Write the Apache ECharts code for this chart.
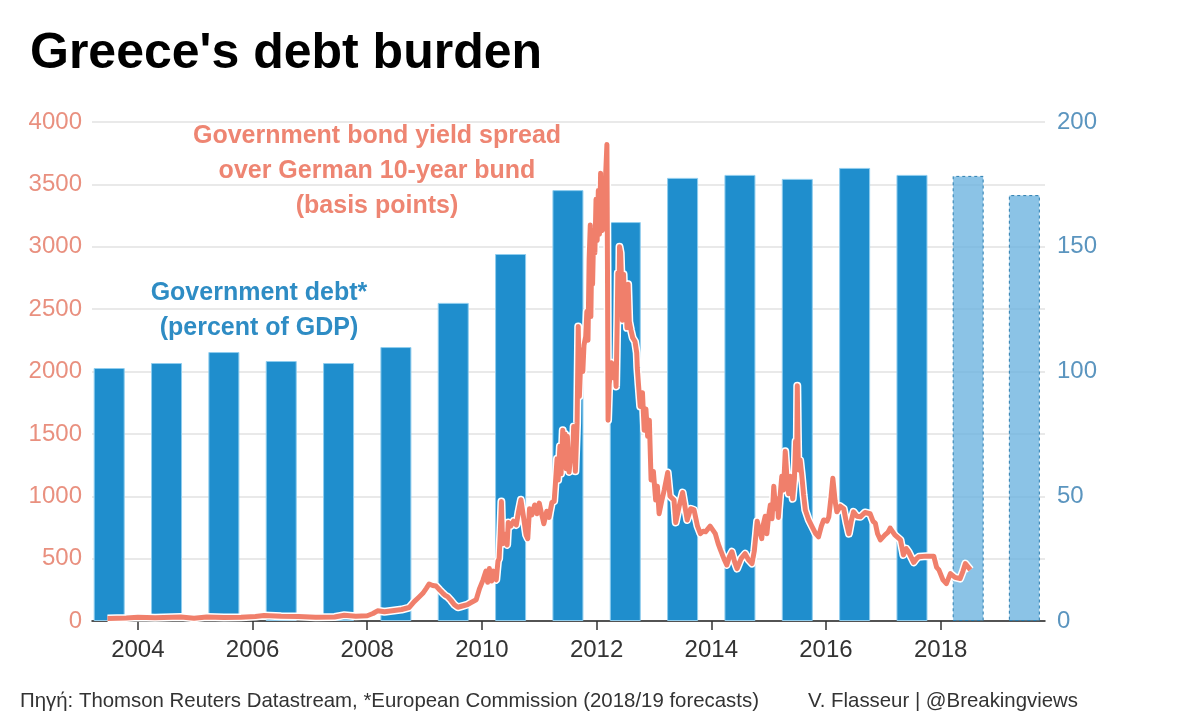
<!DOCTYPE html>
<html>
<head>
<meta charset="utf-8">
<title>Greece's debt burden</title>
<script src="https://cdn.jsdelivr.net/npm/echarts@6/dist/echarts.min.js"></script>
<style>
html, body { margin: 0; padding: 0; background: #fff; }
#chart { width: 1200px; height: 720px; }
</style>
</head>
<body>
<div id="chart"></div>
<script>
// bars sit at mid-year
var debtYears = [2003.5, 2004.5, 2005.5, 2006.5, 2007.5, 2008.5, 2009.5, 2010.5, 2011.5, 2012.5, 2013.5, 2014.5, 2015.5, 2016.5, 2017.5];
var debtValues = [101.4, 103.4, 107.8, 104.2, 103.4, 109.8, 127.5, 147.1, 172.7, 159.9, 177.6, 178.8, 177.2, 181.6, 178.8];
var forecastYears = [2018.48, 2019.46];
var forecastValues = [178.4, 170.7];

// spread, decimal years / basis points
var spreadYears = [
	2003.47, 2003.8, 2004, 2004.3, 2004.75, 2004.98, 2005.2, 2005.5, 2005.8, 2006.05, 2006.2, 2006.5, 2006.8, 2007.1, 2007.43, 2007.6, 2007.8, 2008, 2008.1, 2008.18, 2008.3, 2008.47, 2008.6, 2008.73, 2008.82, 2008.9, 2008.97,
	2009.03, 2009.08, 2009.14, 2009.2, 2009.26, 2009.32, 2009.36, 2009.4, 2009.46, 2009.52, 2009.58, 2009.66, 2009.75, 2009.82, 2009.9, 2009.96, 2010.02, 2010.07, 2010.1, 2010.13, 2010.17, 2010.2, 2010.25, 2010.28, 2010.3, 2010.32, 2010.34, 2010.36, 2010.38, 2010.41, 2010.44, 2010.46, 2010.5, 2010.55,
	2010.6, 2010.64, 2010.68, 2010.72, 2010.77, 2010.8, 2010.83, 2010.87, 2010.92, 2010.96, 2011, 2011.04, 2011.08, 2011.13, 2011.17, 2011.22, 2011.26, 2011.28, 2011.31, 2011.33, 2011.36, 2011.38, 2011.41, 2011.43, 2011.45, 2011.47, 2011.49, 2011.52, 2011.55, 2011.58, 2011.6, 2011.63, 2011.66, 2011.68, 2011.7, 2011.73, 2011.76, 2011.78,
	2011.81, 2011.83, 2011.85, 2011.87, 2011.89, 2011.9, 2011.92, 2011.93, 2011.95, 2011.97, 2011.99, 2012.01, 2012.03, 2012.05, 2012.07, 2012.08, 2012.1, 2012.12, 2012.14, 2012.16, 2012.18, 2012.19, 2012.2, 2012.22, 2012.26, 2012.29, 2012.32, 2012.34, 2012.36, 2012.37, 2012.39, 2012.4, 2012.42, 2012.44, 2012.45,
	2012.47, 2012.49, 2012.51, 2012.53, 2012.55, 2012.57, 2012.6, 2012.63, 2012.67, 2012.7, 2012.71, 2012.73, 2012.76, 2012.8, 2012.83, 2012.86, 2012.89, 2012.92, 2012.95, 2012.99, 2013.03, 2013.06, 2013.09, 2013.13, 2013.18, 2013.24, 2013.28, 2013.35, 2013.38, 2013.44, 2013.5, 2013.58, 2013.64, 2013.7, 2013.76,
	2013.81, 2013.86, 2013.9, 2013.98, 2014.07, 2014.12, 2014.16, 2014.22, 2014.27, 2014.32, 2014.36, 2014.41, 2014.45, 2014.52, 2014.59, 2014.65, 2014.71, 2014.75, 2014.78, 2014.8, 2014.84, 2014.88, 2014.91, 2014.94, 2014.97, 2015, 2015.03, 2015.06, 2015.09, 2015.12, 2015.15, 2015.17, 2015.2, 2015.23,
	2015.26, 2015.29, 2015.32, 2015.35, 2015.38, 2015.42, 2015.45, 2015.47, 2015.49, 2015.5, 2015.51, 2015.52, 2015.55, 2015.58, 2015.61, 2015.64, 2015.7, 2015.76, 2015.82, 2015.87, 2015.92, 2015.96, 2016.02, 2016.05, 2016.09, 2016.12, 2016.16, 2016.19, 2016.25, 2016.31, 2016.36, 2016.4, 2016.44,
	2016.48, 2016.54, 2016.6, 2016.68, 2016.77, 2016.82, 2016.86, 2016.9, 2016.95, 2017.03, 2017.08, 2017.12, 2017.2, 2017.3, 2017.35, 2017.4, 2017.44, 2017.53, 2017.58, 2017.62, 2017.75, 2017.88, 2017.93, 2017.97, 2018.04, 2018.1, 2018.17,
	2018.25, 2018.34, 2018.39, 2018.43, 2018.52
];
var spreadValues = [
	20, 24, 30, 27, 32, 22, 32, 28, 30, 36, 44, 38, 36, 30, 32, 46, 38, 42, 60, 82, 74, 84, 92, 108, 155, 190, 222,
	262, 297, 285, 280, 250, 222, 205, 195, 165, 130, 110, 120, 132, 150, 170, 262, 330, 400, 310, 420, 320, 400, 330, 480, 500, 700, 958, 620, 700, 640, 610, 790, 760, 800,
	770, 880, 972, 850, 690, 660, 900, 850, 930, 860, 945, 860, 780, 880, 830, 950, 960, 1090, 1300, 1130, 1400, 1180, 1530, 1280, 1500, 1220, 1480, 1195, 1330, 1290, 1560, 1200, 1590, 2360, 1800, 2170, 2000, 2210,
	2280, 2480, 2250, 2900, 3175, 2440, 3100, 2700, 3130, 2950, 3380, 3050, 3450, 3100, 3590, 3180, 3130, 3500, 3200, 3600, 3820, 2800, 1610, 1900, 2070, 1950, 2060, 1880, 2400, 2790, 2500, 3000, 2950, 2650, 2410,
	2780, 2500, 2680, 2350, 2700, 2400, 2330, 2270, 2240, 2150, 2030, 1900, 1720, 1830, 1530, 1700, 1480, 1610, 1130, 1200, 970, 1080, 860, 950, 1050, 1190, 1000, 970, 790, 920, 1030, 810, 900, 890, 760,
	700, 720, 715, 760, 700, 620, 570, 500, 450, 520, 555, 470, 420, 500, 540, 490, 460, 560, 700, 800, 730, 660, 780, 840, 700, 840, 930, 820, 1080, 900, 980, 830, 1000, 1160,
	1050, 1360, 1150, 1020, 1160, 980, 1140, 1440, 1300, 1885, 1500, 1210, 1290, 1160, 1010, 890, 810, 755, 700, 675, 760, 810, 800, 835, 1000, 1145, 960, 875, 920, 900, 780, 700, 800,
	875, 840, 835, 870, 860, 800, 785, 700, 650, 690, 710, 745, 690, 650, 530, 580, 555, 470, 500, 515, 520, 520, 430, 410, 330, 300, 380,
	350, 340, 400, 460, 410
];

var yearTicks = [2004, 2006, 2008, 2010, 2012, 2014, 2016, 2018];

var spreadColor = "#F07F6B";
var debtColor = "#1F8ECD";
var fontName = "'Liberation Sans', Arial, sans-serif";

function zip(xs, ys) {
	return xs.map(function(x, i) { return [x, ys[i]]; });
}

// plain number, the picture has no thousands separator
function plainLabel(v) {
	return String(v);
}

var voChart = echarts.init(document.getElementById("chart"), null, { renderer: "canvas" });

var voSpread = zip(spreadYears, spreadValues);

var voOption = {
	animation: false,
	backgroundColor: "#fff",
	textStyle: { fontFamily: fontName },
	title: {
		text: "Greece's debt burden",
		left: 25,
		top: 24,
		textStyle: { fontFamily: fontName, fontSize: 50, fontWeight: "bold", color: "#000" }
	},
	grid: { left: 92, right: 155, top: 122, bottom: 99 },
	xAxis: {
		type: "value",
		min: 2003.2,
		max: 2019.82,
		splitLine: { show: false },
		axisLine: { show: true, onZero: false, lineStyle: { color: "#222", width: 1.5 } },
		axisTick: { show: true, length: 9, customValues: yearTicks, lineStyle: { color: "#333", width: 1.5 } },
		axisLabel: {
			customValues: yearTicks,
			margin: 17,
			fontFamily: fontName,
			fontSize: 24,
			color: "#333",
			formatter: plainLabel
		}
	},
	yAxis: [
		{
			type: "value",
			min: 0,
			max: 4000,
			interval: 500,
			axisLine: { show: false },
			axisTick: { show: false },
			axisLabel: { fontFamily: fontName, fontSize: 24, color: "#E9907F", margin: 10, formatter: plainLabel },
			splitLine: { show: true, lineStyle: { color: "#E2E2E2", width: 1.5 } }
		},
		{
			type: "value",
			min: 0,
			max: 200,
			interval: 50,
			position: "right",
			axisLine: { show: false },
			axisTick: { show: false },
			axisLabel: { fontFamily: fontName, fontSize: 24, color: "#5B95BF", margin: 12, formatter: plainLabel },
			splitLine: { show: false }
		}
	],
	series: [
		{
			name: "Government debt",
			type: "bar",
			yAxisIndex: 1,
			barWidth: 31,
			barGap: "-100%",
			itemStyle: { color: debtColor, borderColor: "#8FCDEE", borderWidth: 1 },
			data: zip(debtYears, debtValues)
		},
		{
			name: "Forecast",
			type: "bar",
			yAxisIndex: 1,
			barWidth: 31,
			barGap: "-100%",
			itemStyle: { color: "rgba(100,175,222,0.75)", borderColor: "#2A7DAF", borderWidth: 1, borderType: [3, 3] },
			data: zip(forecastYears, forecastValues)
		},
		{
			name: "halo",
			type: "line",
			yAxisIndex: 0,
			showSymbol: false,
			silent: true,
			lineStyle: { color: "#fff", width: 8, join: "round" },
			data: voSpread
		},
		{
			name: "Spread",
			type: "line",
			yAxisIndex: 0,
			showSymbol: false,
			lineStyle: { color: spreadColor, width: 5, join: "round" },
			data: voSpread
		}
	],
	graphic: [
		{
			type: "text", x: 377, y: 119, z: 10,
			style: {
				text: "Government bond yield spread\nover German 10-year bund\n(basis points)",
				fill: "#EE8572", fontFamily: fontName, fontSize: 25, fontWeight: "bold",
				align: "center", lineHeight: 35
			}
		},
		{
			type: "text", x: 259, y: 276, z: 10,
			style: {
				text: "Government debt*\n(percent of GDP)",
				fill: "#2E8CC4", fontFamily: fontName, fontSize: 25, fontWeight: "bold",
				align: "center", lineHeight: 35
			}
		},
		{
			type: "text", x: 20, y: 691, z: 10,
			style: {
				text: "Πηγή: Thomson Reuters Datastream, *European Commission (2018/19 forecasts)",
				fill: "#333", fontFamily: fontName, fontSize: 20.4
			}
		},
		{
			type: "text", x: 808, y: 691, z: 10,
			style: {
				text: "V. Flasseur | @Breakingviews",
				fill: "#333", fontFamily: fontName, fontSize: 20.4
			}
		}
	]
};

voChart.setOption(voOption);

window.addEventListener("resize", function() {
	voChart.resize();
});
</script>
</body>
</html>
